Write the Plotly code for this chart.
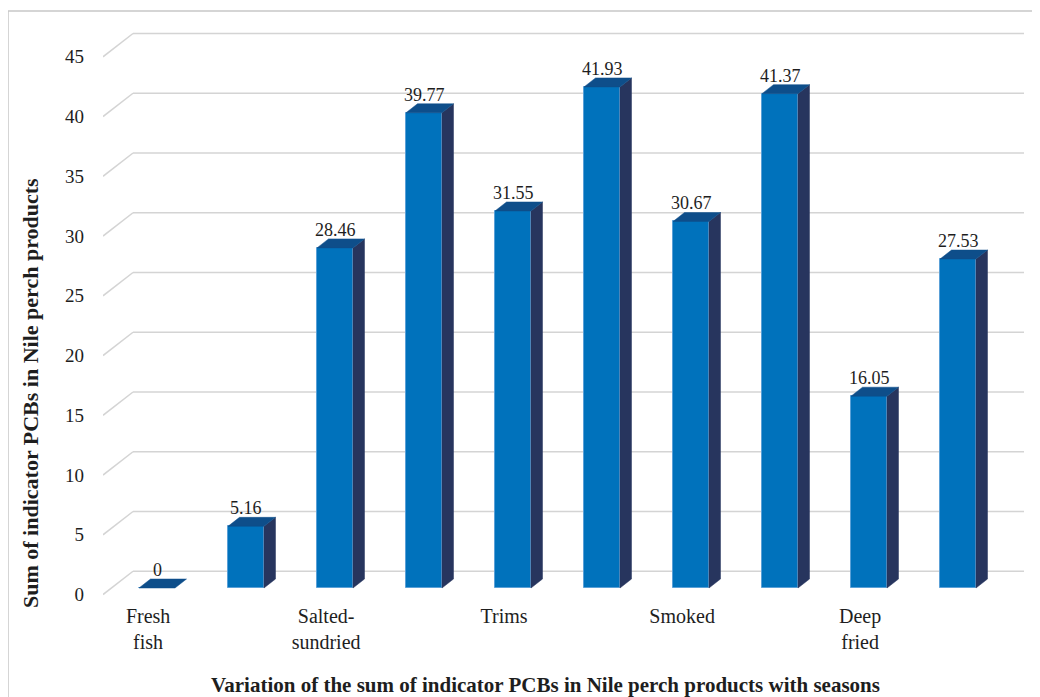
import plotly.graph_objects as go

# ---- data ----
products = ["Fresh<br>fish", "Salted-<br>sundried", "Trims", "Smoked", "Deep<br>fried"]
values = [0, 5.16, 28.46, 39.77, 31.55, 41.93, 30.67, 41.37, 16.05, 27.53]
value_labels = ["0", "5.16", "28.46", "39.77", "31.55", "41.93", "30.67", "41.37", "16.05", "27.53"]
y_ticks = [0, 5, 10, 15, 20, 25, 30, 35, 40, 45]

# ---- geometry (pseudo 3D); screen targets, page body has an 8px margin ----
OFF = 8
W, H = 1040 - OFF, 697 - OFF
PL, PR, PT, PB = 103, 1024, 30, 600      # plot area on screen
L, T = PL - OFF, PT - OFF
R, B = W - (PR - OFF), H - (PB - OFF)
plot_w = PR - PL
plot_h = PB - PT
px_x = 89.0          # px per category
px_y = 11.95         # px per unit
xmin = -(157 - PL) / px_x
xmax = xmin + plot_w / px_x
ymin = -(PB - 588) / px_y
ymax = ymin + plot_h / px_y


def sx2paper(sx):
    return (sx - PL) / plot_w


def sy2paper(sy):
    return (PB - sy) / plot_h


bar_w = 36 / px_x
dx = 11.5 / px_x      # bar depth (x)
dy = 9 / px_y         # bar depth (y)
back_dx = 30 / px_x   # wall depth (x)
back_dy = 1.4         # back wall offset (units)
front_dy = -0.55      # front wall offset (units)

FRONT = "rgb(0,114,188)"
SIDE = "rgb(39,53,94)"
TOP = "rgb(14,78,138)"
GRID = "#d4d4d4"
TXT = "#1e1e1e"
FONT = "Liberation Serif"

xs = list(range(len(values)))

fig = go.Figure()

# side faces
sxs, sys_ = [], []
for x, v in zip(xs, values):
    if v <= 0:
        continue
    r = x + bar_w / 2
    sxs += [r, r + dx, r + dx, r, r, None]
    sys_ += [0, dy, v + dy, v, 0, None]
fig.add_trace(go.Scatter(x=sxs, y=sys_, mode="lines", fill="toself", fillcolor=SIDE,
                         line=dict(color=SIDE, width=0.5), hoverinfo="skip", showlegend=False))

# top faces
tx, ty = [], []
for x, v in zip(xs, values):
    l, r = x - bar_w / 2, x + bar_w / 2
    tx += [l, r, r + dx, l + dx, l, None]
    ty += [v, v, v + dy, v + dy, v, None]
fig.add_trace(go.Scatter(x=tx, y=ty, mode="lines", fill="toself", fillcolor=TOP,
                         line=dict(color=TOP, width=0.5), hoverinfo="skip", showlegend=False))

# front faces
fig.add_trace(go.Bar(x=xs, y=values, width=bar_w, marker=dict(color=FRONT,
                     line=dict(color="rgb(90,160,215)", width=1)), showlegend=False,
                     hoverinfo="skip"))

shapes = []
for v in y_ticks:
    shapes.append(dict(type="line", xref="x", yref="y", x0=xmin + back_dx, x1=xmax,
                       y0=v + back_dy, y1=v + back_dy, line=dict(color=GRID, width=1.5), layer="below"))
    shapes.append(dict(type="line", xref="x", yref="y", x0=xmin, x1=xmin + back_dx,
                       y0=v + front_dy, y1=v + back_dy, line=dict(color=GRID, width=1.5), layer="below"))
# outer border
shapes.append(dict(type="rect", xref="paper", yref="paper",
                   x0=sx2paper(8), x1=1.2, y0=-0.5, y1=sy2paper(11),
                   line=dict(color="#c8c8c8", width=1.5), layer="below"))

annotations = []
for x, v, t in zip(xs, values, value_labels):
    annotations.append(dict(x=x, y=v + dy, xref="x", yref="y", text=t, showarrow=False,
                            yanchor="bottom", yshift=-3,
                            font=dict(family=FONT, size=18, color=TXT)))
annotations.append(dict(xref="paper", yref="paper", x=sx2paper(30), y=sy2paper(393),
                        xanchor="center", yanchor="middle",
                        text="<b>Sum of indicator PCBs in Nile perch products</b>", textangle=-90,
                        showarrow=False, font=dict(family=FONT, size=22, color=TXT)))
annotations.append(dict(xref="paper", yref="paper", x=sx2paper(545), y=sy2paper(685),
                        xanchor="center", yanchor="middle",
                        text="<b>Variation of the sum of indicator PCBs in Nile perch products with seasons</b>",
                        showarrow=False, font=dict(family=FONT, size=21, color=TXT)))

fig.update_layout(
    width=W, height=H,
    margin=dict(l=L, r=R, t=T, b=B, autoexpand=False),
    paper_bgcolor="white", plot_bgcolor="white",
    font=dict(family=FONT, color=TXT),
    shapes=shapes, annotations=annotations,
    bargap=0,
    xaxis=dict(range=[xmin, xmax], showgrid=False, zeroline=False, showline=False,
               tickvals=[x - 0.1 for x in xs[::2]], ticktext=products,
               tickfont=dict(family=FONT, size=20, color=TXT), ticks="", ticklabelstandoff=2),
    yaxis=dict(range=[ymin, ymax], showgrid=False, zeroline=False, showline=False,
               tickvals=[v + front_dy for v in y_ticks], ticktext=[str(v) for v in y_ticks],
               tickfont=dict(family=FONT, size=19, color=TXT), ticks="", ticklabelstandoff=18),
)

fig.write_html("out.html")
